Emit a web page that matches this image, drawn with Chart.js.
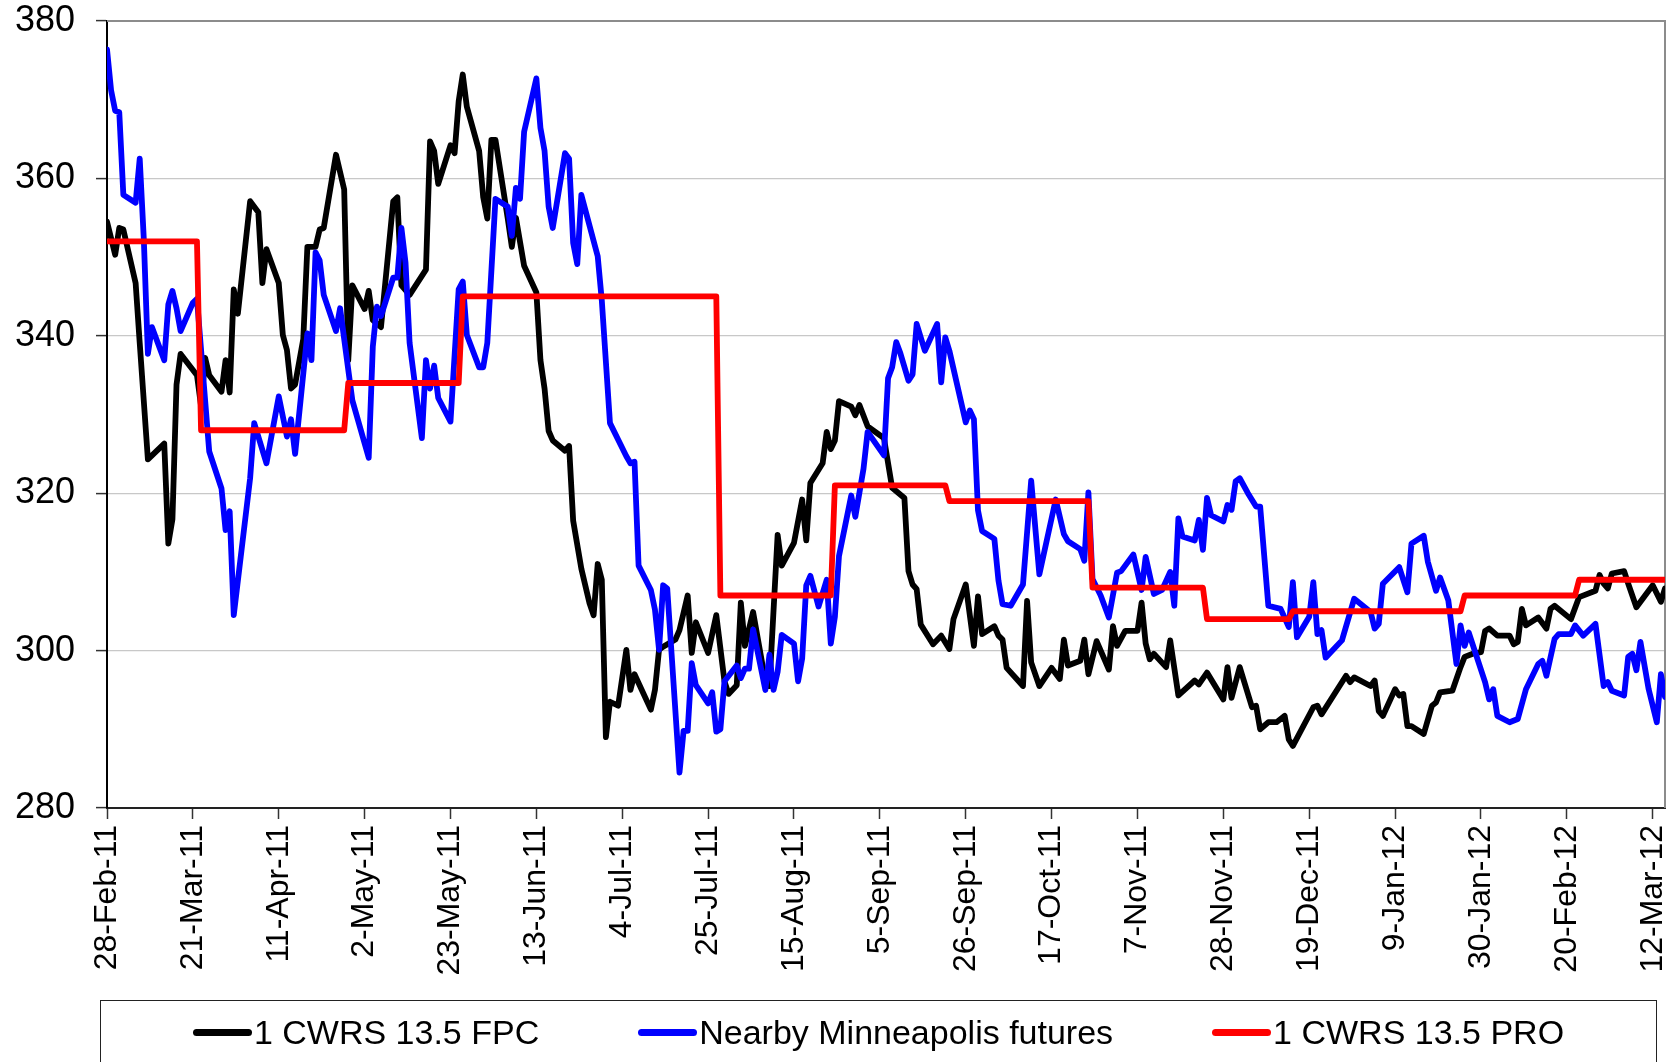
<!DOCTYPE html>
<html>
<head>
<meta charset="utf-8">
<script src="https://cdn.jsdelivr.net/npm/chart.js@4.4.1/dist/chart.umd.min.js"></script>
<style>
  html, body { margin: 0; padding: 0; background: #fff; overflow: hidden; }
  #wrap { position: relative; width: 1678px; height: 1062px; }
  #legend {
    position: absolute; left: 100px; top: 1000px; width: 1557px; height: 90px;
    border: 1.5px solid #222; box-sizing: border-box;
    display: flex; justify-content: center; align-items: flex-start; gap: 99px;
    padding-top: 12px;
    font-family: "Liberation Sans", Arial, sans-serif; font-size: 34px; color: #000;
  }
  .item { display: flex; align-items: center; line-height: 38px; white-space: nowrap; }
  .swatch { width: 59px; height: 7px; border-radius: 4px; margin-right: 2px; }
</style>
</head>
<body>
<div id="wrap">
  <canvas id="c" width="1678" height="1062"></canvas>
  <div id="legend"></div>
</div>
<script>
// ---- Series names ----
const seriesNames = ["1 CWRS 13.5 FPC", "Nearby Minneapolis futures", "1 CWRS 13.5 PRO"];

// ---- X tick labels (every 21 days from 28-Feb-11) ----
const tickLabels = ["28-Feb-11","21-Mar-11","11-Apr-11","2-May-11","23-May-11","13-Jun-11","4-Jul-11",
  "25-Jul-11","15-Aug-11","5-Sep-11","26-Sep-11","17-Oct-11","7-Nov-11","28-Nov-11","19-Dec-11",
  "9-Jan-12","30-Jan-12","20-Feb-12","12-Mar-12"];

// ---- 1 CWRS 13.5 FPC (days since 28-Feb-11, value) ----
const fpcDays = [0,2,3,4,7,8,10,14,15,16,17,18,22,23,24,25,28,29,30,31,32,35,37,38,39,42,43,44,45,46,48,49,51,52,53,56,58,59,60,63,64,65,67,70,71,72,74,78,79,80,81,84,85,86,87,88,91,92,93,94,95,98,99,100,102,105,106,107,108,109,112,113,114,116,118,119,120,121,122,123,125,127,128,129,133,134,135,136,139,140,142,143,144,147,149,151,152,154,155,156,158,161,162,164,165,168,170,171,172,175,176,177,178,179,182,183,184,186,190,192,195,196,197,198,199,202,204,206,207,210,212,213,214,217,218,219,220,224,225,226,228,231,233,234,235,238,239,240,242,245,246,247,249,252,253,254,255,256,259,260,262,266,267,269,273,274,275,277,280,281,282,284,286,288,289,290,295,296,297,303,304,305,309,310,311,312,315,316,317,318,319,322,324,325,326,329,331,332,334,336,337,338,340,343,344,345,346,347,350,352,353,354,358,360,364,365,366,367,368,371,372,374,378,380,381];
const fpcValues = [354.5,350.3,353.7,353.5,346.7,339.1,324.3,326.3,313.6,316.7,333.8,337.7,335,331.1,337.2,335,332.9,336.9,332.8,345.9,342.8,357.1,355.7,346.7,351,346.7,340.1,338.2,333.3,333.8,339.6,351.3,351.3,353.5,353.7,363,358.6,336.9,346.4,343.4,345.7,342,341.1,357.1,357.6,346.4,345.2,348.4,364.7,363.5,359.3,364.2,363.2,369.8,373.2,369.1,363.5,357.6,354.9,364.9,364.9,354.9,351.3,355,348.9,345.5,336.9,333.3,327.9,326.7,325.4,326,316.5,310.4,306,304.5,311,309,289,293.5,293,300.1,295,297,292.5,295,300.1,300.5,301.4,302.6,307,299.7,303.6,299.7,304.5,296.1,294.5,295.6,306.1,300.6,304.9,296.1,295.5,314.7,310.8,313.7,319.2,314,321.3,323.8,327.8,325.6,326.7,331.7,331,329.9,331.2,328.5,327,320.7,319.4,310.1,308.4,307.8,303.3,300.8,301.9,300.2,304,308.4,300.6,306.9,302.1,303.1,301.9,301.4,297.8,295.5,306.3,298.5,295.5,297.8,296.4,301.4,298.1,298.7,301.4,297,301.2,297.6,303.1,300.6,302.5,302.5,306.1,300.9,298.9,299.6,297.9,301.3,294.3,296.2,295.7,297.2,293.8,297.9,294,297.9,292.8,293,290,290.9,290.9,291.7,288.7,287.9,292.8,293,291.9,296.8,296,296.6,295.5,296.2,292.3,291.7,295.1,294.3,294.5,290.4,290.4,289.4,293,293.4,294.7,294.9,297.9,299.2,299.6,299.8,302.5,302.8,301.9,301.9,300.8,301.1,305.3,303.2,304.2,302.8,305.3,305.7,304,306.8,307.6,309.6,308.5,307.9,309.8,310.1,308.5,305.5,308.3,306.2,307.9];

// ---- Nearby Minneapolis futures ----
const mplsDays = [0,1,2,3,4,7,8,9,10,11,14,15,16,17,18,21,22,25,28,29,30,31,35,36,39,42,44,45,46,49,50,51,52,53,56,57,60,64,65,66,67,70,71,72,73,74,77,78,79,80,81,84,86,87,88,91,92,93,95,98,99,100,101,102,105,106,107,108,109,112,113,114,115,116,120,121,123,127,128,129,130,133,134,135,136,137,140,141,142,143,144,147,148,149,150,151,154,155,156,157,158,161,162,163,164,165,168,169,170,171,172,174,176,177,178,179,182,183,185,186,190,191,192,193,194,196,197,198,200,203,204,205,206,210,211,212,213,214,217,218,219,221,224,226,228,232,234,235,238,239,240,241,243,245,247,248,251,253,254,256,258,260,261,262,263,266,267,268,269,270,273,274,275,276,277,279,281,282,284,287,289,290,291,294,295,296,297,298,302,305,309,310,311,312,316,318,319,322,323,325,326,328,330,331,332,333,337,338,339,340,343,345,347,350,351,352,354,355,358,359,361,364,366,367,368,371,372,373,374,375,377,379,380,381];
const mplsValues = [376.4,371.2,368.6,368.4,357.9,356.9,362.5,352.3,337.7,341.1,336.9,344,345.7,343.5,340.6,344.2,344.7,325.3,320.6,315.3,317.7,304.5,321.9,328.9,323.8,332.3,327.2,329.4,325,340.3,336.9,350.6,349.6,345.2,340.6,343.5,331.8,324.5,338.6,343.7,342.5,347.4,347.4,353.7,349.3,339.1,327,336.9,333.3,336.2,332.1,329.1,345.9,346.9,340.1,336,336,339.1,357.4,356.4,352.7,358.8,357.4,365.9,372.7,366.4,363.5,356.4,353.7,363.2,362.5,351.8,349.1,357.9,350.1,344.5,328.9,324.7,323.8,324,310.8,307.7,305.2,300.1,308.3,307.9,284.5,289.8,289.8,298.4,295.6,293.3,294.7,289.7,290,296.1,298.1,296.5,297.7,297.7,302.7,295,299.5,295,297.3,302,300.9,296.1,299,308.3,309.5,305.6,309,300.9,304.3,312,319.7,317,323.1,327.8,324.8,334.6,336,339.2,337.8,334.3,335.1,341.5,338.1,341.5,334.1,339.8,338.1,329,330.5,329.4,317.8,315.2,314.2,308.9,305.9,305.7,308.4,321.6,309.7,319.2,314.8,313.9,312.9,311.4,320.1,309.1,307,304.2,309.9,310.1,312.2,307.7,311.9,307.2,307.7,310,305.7,316.8,314.5,314,316.6,312.8,319.4,317.2,316.4,318.5,317.9,321.5,321.9,320,318.3,318.3,305.7,305.3,303,308.7,301.7,304.3,308.7,302.1,302.6,299.1,301.3,306.6,304.9,302.8,303.4,308.5,310.6,307.4,313.6,314.6,311.3,307.6,309.3,306.4,298.3,303.2,300.6,302.3,296,293.8,295.1,291.7,290.9,291.3,295.1,298.3,298.7,296.8,301.5,302.1,302.1,303.2,301.9,303.4,295.5,296,294.9,294.3,299.2,299.6,297.5,301.1,295.1,290.9,297,294.1];

// ---- 1 CWRS 13.5 PRO (step series) ----
const proDays = [0,22,23,58,59,86,87,149,150,177,178,205,206,240,241,268,269,289,290,331,332,359,360,381];
const proValues = [352,352,328,328,334,334,345,345,307,307,321,321,319,319,308,308,304,304,305,305,307,307,309,309];

// ---- Axis settings ----
const yMin = 280, yMax = 380, yStep = 20;
const xMin = 0, xMax = 381, xStep = 21;

const toXY = (days, vals) => days.map((d, i) => ({ x: d, y: vals[i] }));

const datasets = [
  { label: seriesNames[0], data: toXY(fpcDays, fpcValues), borderColor: "#000000", order: 3 },
  { label: seriesNames[1], data: toXY(mplsDays, mplsValues), borderColor: "#0000FF", order: 2 },
  { label: seriesNames[2], data: toXY(proDays, proValues), borderColor: "#FF0000", order: 1 }
].map(d => Object.assign(d, {
  borderWidth: 5.8, pointRadius: 0, tension: 0, fill: false,
  borderJoinStyle: "round", borderCapStyle: "round", backgroundColor: d.borderColor
}));

const frame = {
  id: "frame",
  beforeDatasetsDraw(chart) {
    const { ctx, chartArea: a } = chart;
    ctx.save();
    ctx.strokeStyle = "#8c8c8c";
    ctx.lineWidth = 2;
    ctx.beginPath();
    ctx.moveTo(a.left, a.top);
    ctx.lineTo(a.right, a.top);
    ctx.lineTo(a.right, a.bottom);
    ctx.stroke();
    ctx.restore();
  }
};

const FONT = "'Liberation Sans', Arial, sans-serif";

const chart = new Chart(document.getElementById("c"), {
  type: "line",
  data: { datasets },
  plugins: [frame],
  options: {
    responsive: false,
    animation: false,
    layout: { padding: { left: 0, right: 13, top: 21, bottom: 0 } },
    plugins: { legend: { display: false }, tooltip: { enabled: false } },
    scales: {
      x: {
        type: "linear", min: xMin, max: xMax,
        afterBuildTicks: s => { s.ticks = tickLabels.map((_, i) => ({ value: xMin + i * xStep })); },
        afterFit: s => { s.height = 1062 - 808; s.paddingLeft = 0; s.paddingRight = 0; },
        ticks: {
          stepSize: xStep, autoSkip: false, maxRotation: 90, minRotation: 90, padding: 6,
          color: "#000", font: { family: FONT, size: 32 },
          callback: v => tickLabels[Math.round((v - xMin) / xStep)]
        },
        grid: { drawOnChartArea: false, drawTicks: true, tickLength: 11, tickColor: "#333", tickWidth: 1.5 },
        border: { display: true, color: "#222", width: 2 }
      },
      y: {
        min: yMin, max: yMax,
        afterFit: s => { s.width = 107; s.paddingTop = 0; s.paddingBottom = 0; },
        ticks: { stepSize: yStep, padding: 21, color: "#000", font: { family: FONT, size: 36 } },
        grid: { color: "#c8c8c8", lineWidth: 1.2, tickLength: 11, tickColor: "#333", tickWidth: 1.5 },
        border: { display: true, color: "#000", width: 2 }
      }
    }
  }
});

// ---- HTML legend built from datasets ----
const legend = document.getElementById("legend");
chart.data.datasets.forEach(ds => {
  const item = document.createElement("div");
  item.className = "item";
  const sw = document.createElement("span");
  sw.className = "swatch";
  sw.style.background = ds.borderColor;
  const tx = document.createElement("span");
  tx.textContent = ds.label;
  item.appendChild(sw);
  item.appendChild(tx);
  legend.appendChild(item);
});
</script>
</body>
</html>
